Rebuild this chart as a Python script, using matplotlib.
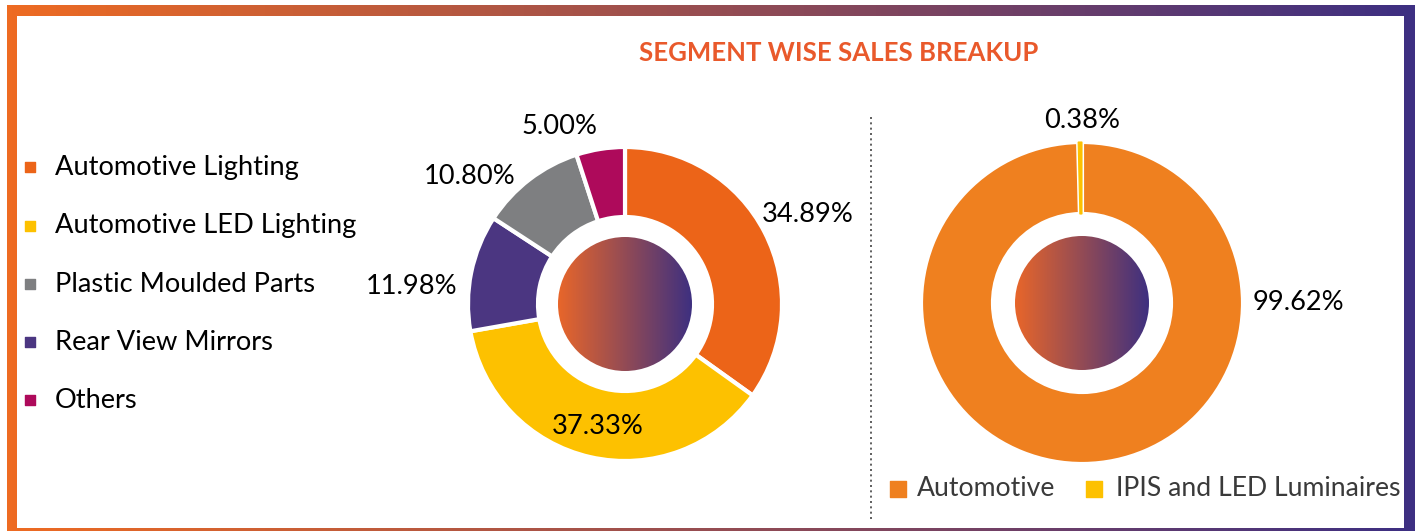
import numpy as np
import matplotlib.pyplot as plt
from matplotlib.patches import Rectangle, Circle
from matplotlib.colors import LinearSegmentedColormap

# segment data
seg_labels = ['Automotive Lighting', 'Automotive LED Lighting', 'Plastic Moulded Parts',
              'Rear View Mirrors', 'Others']
seg_colors = ['#EC6418', '#FDC100', '#7E7F81', '#4B3681', '#AE0A5B']
# donut order (clockwise from top)
pie_labels = ['Automotive Lighting', 'Automotive LED Lighting', 'Rear View Mirrors',
              'Plastic Moulded Parts', 'Others']
pie_values = [34.89, 37.33, 11.98, 10.80, 5.00]

biz_labels = ['Automotive', 'IPIS and LED Luminaires']
biz_values = [99.62, 0.38]
biz_colors = ['#EF801F', '#FDC100']

W, H = 1422, 531
font = 'Lato'
fs = 19.6
grad = LinearSegmentedColormap.from_list('g', ['#EE6B22', '#3D2F82'])
grad_in = LinearSegmentedColormap.from_list('gi', ['#E8662A', '#3E3080'])

fig = plt.figure(figsize=(W / 100, H / 100), dpi=100)
ax = fig.add_axes([0, 0, 1, 1])

# gradient frame
ax.imshow(np.linspace(0, 1, 256)[None, :], cmap=grad, extent=[7, 1415, 0, H - 5],
          aspect='auto', zorder=0)
ax.add_patch(Rectangle((17, 3), 1387, 512, facecolor='white', edgecolor='none', zorder=1))

# left donut
cL = (625, H - 304)
col_map = dict(zip(seg_labels, seg_colors))
ax.pie(pie_values, colors=[col_map[l] for l in pie_labels], startangle=90,
       counterclock=False, radius=157, center=cL,
       wedgeprops=dict(width=70, edgecolor='white', linewidth=3))

# right donut
cR = (1082, H - 303)
wedges, _ = ax.pie(biz_values, colors=biz_colors, startangle=90, counterclock=False,
                   radius=161, center=cR,
                   wedgeprops=dict(width=72, edgecolor='white', linewidth=3))
# keep the thin slice visible
wedges[1].set_edgecolor(biz_colors[1])
wedges[1].set_linewidth(0.8)

# gradient discs in the middle
for c in (cL, cR):
    im = ax.imshow(np.linspace(0, 1, 256)[None, :], cmap=grad_in,
                   extent=[c[0] - 67, c[0] + 67, c[1] - 67, c[1] + 67],
                   aspect='auto', zorder=3)
    circ = Circle(c, 67, transform=ax.transData)
    im.set_clip_path(circ)

# percentage labels
pie_lab_pos = [(808, 215), (598, 427), (412, 287), (470, 177), (560, 127)]
for v, (x, y) in zip(pie_values, pie_lab_pos):
    ax.text(x, H - y, f'{v:.2f}%', ha='center', va='center', fontsize=fs,
            family=font, color='black', zorder=5)
biz_lab_pos = [(1298, 302), (1082, 121)]
for v, (x, y) in zip(biz_values, biz_lab_pos):
    ax.text(x, H - y, f'{v:.2f}%', ha='center', va='center', fontsize=fs,
            family=font, color='black', zorder=5)

# title
ax.text(839, H - 53, 'SEGMENT WISE SALES BREAKUP', ha='center', va='center',
        fontsize=18.5, fontweight='bold', family=font, color='#E9592B', zorder=5)

# divider
ax.plot([871, 871], [H - 117, H - 520], color='#444444', linestyle=(0, (1.2, 2)),
        linewidth=1.2, zorder=2)

# left legend
leg_y = [167, 226, 284, 342, 400]
for lab, col, y in zip(seg_labels, seg_colors, leg_y):
    ax.scatter([30], [H - y], marker='s', s=52, color=col, zorder=5)
    ax.text(55, H - y, lab, ha='left', va='center', fontsize=fs, family=font,
            color='black', zorder=5)

# bottom legend
bl_x = [898, 1094]
bt_x = [917, 1116]
for lab, col, xs, xt in zip(biz_labels, biz_colors, bl_x, bt_x):
    ax.scatter([xs], [H - 489], marker='s', s=117, color=col, zorder=5)
    ax.text(xt, H - 489, lab, ha='left', va='center', fontsize=19.2, family=font,
            color='#3A3A3A', zorder=5)

ax.set_xlim(0, W)
ax.set_ylim(0, H)
ax.set_aspect('auto')
ax.axis('off')
fig.savefig('out.png', dpi=100)
